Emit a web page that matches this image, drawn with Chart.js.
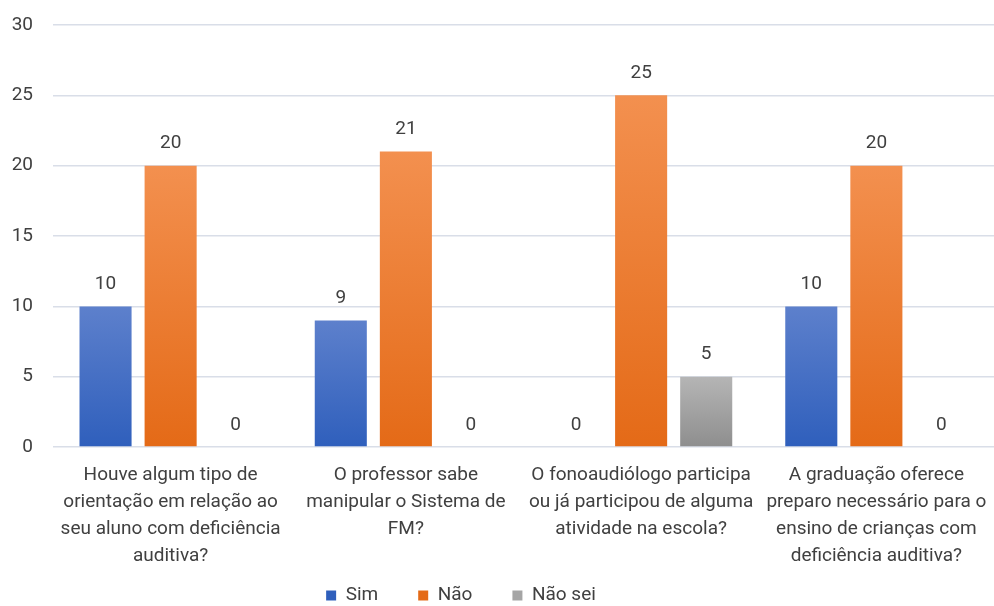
<!DOCTYPE html>
<html>
<head>
<meta charset="utf-8">
<script src="https://cdn.jsdelivr.net/npm/chart.js@4.4.0/dist/chart.umd.min.js"></script>
<style>
  html, body { margin: 0; padding: 0; background: #fff; }
  #wrap { width: 994px; height: 606px; }
</style>
</head>
<body>
<div id="wrap"><canvas id="chart"></canvas></div>
<script>
const categories = [
  ["Houve algum tipo de", "orientação em relação ao", "seu aluno com deficiência", "auditiva?"],
  ["O professor sabe", "manipular o Sistema de", "FM?"],
  ["O fonoaudiólogo participa", "ou já participou de alguma", "atividade na escola?"],
  ["A graduação oferece", "preparo necessário para o", "ensino de crianças com", "deficiência auditiva?"]
];
const simValues = [10, 9, 0, 10];
const naoValues = [20, 21, 25, 20];
const naoSeiValues = [0, 0, 5, 0];
const yTicks = [0, 5, 10, 15, 20, 25, 30];

const FONT = "Roboto, sans-serif";
const SIZE = 19;
const TEXT = "#404040";

// per-bar vertical gradient, light at the top, darker at the base
function barFill(top, bottom, flat) {
  return ctx => {
    const chart = ctx.chart;
    const y = chart.scales.y;
    if (!chart.chartArea || !y || ctx.raw === undefined) return flat;
    const y0 = y.getPixelForValue(0);
    const y1 = y.getPixelForValue(ctx.raw);
    if (Math.abs(y0 - y1) < 1) return flat;
    const g = chart.ctx.createLinearGradient(0, y1, 0, y0);
    g.addColorStop(0, top);
    g.addColorStop(1, bottom);
    return g;
  };
}

const valueLabels = {
  id: "valueLabels",
  afterDatasetsDraw(chart) {
    const c = chart.ctx;
    c.save();
    c.font = SIZE + "px " + FONT;
    c.fillStyle = TEXT;
    c.textAlign = "center";
    c.textBaseline = "middle";
    chart.data.datasets.forEach((ds, i) => {
      chart.getDatasetMeta(i).data.forEach((bar, j) => {
        c.fillText(String(ds.data[j]), bar.x, bar.y - 22);
      });
    });
    c.restore();
  }
};

// legend sits a bit left of centre and overlaps the label band, like the original
const legendNudge = {
  id: "legendNudge",
  afterLayout(chart) {
    const lg = chart.legend;
    lg.left -= 36;
    lg.right -= 36;
    lg.top = chart.height - 60;
    lg.bottom = chart.height;
  }
};

new Chart(document.getElementById("chart"), {
  type: "bar",
  data: {
    labels: categories,
    datasets: [
      { label: "Sim", data: simValues, backgroundColor: barFill("#5d80cc", "#2f5fbc", "#4472c4") },
      { label: "Não", data: naoValues, backgroundColor: barFill("#f3904f", "#e46a17", "#ed7d31") },
      { label: "Não sei", data: naoSeiValues, backgroundColor: barFill("#b5b5b5", "#8e8e8e", "#a5a5a5") }
    ]
  },
  options: {
    responsive: true,
    maintainAspectRatio: false,
    animation: false,
    categoryPercentage: 0.83,
    barPercentage: 0.8,
    layout: { padding: { top: 25, right: 0, left: 0, bottom: 0 } },
    scales: {
      x: {
        afterFit: axis => { axis.paddingLeft = 0; axis.paddingRight = 0; axis.paddingTop = 0; axis.paddingBottom = 0; },
        grid: { display: false, drawTicks: false },
        border: { display: false },
        ticks: { color: TEXT, font: { family: FONT, size: SIZE, lineHeight: 1.42 }, maxRotation: 0, autoSkip: false, padding: 15 }
      },
      y: {
        min: 0,
        max: 30,
        afterBuildTicks: axis => { axis.ticks = yTicks.map(v => ({ value: v })); },
        afterFit: axis => { axis.width = 53; axis.paddingTop = 0; axis.paddingBottom = 0; },
        grid: { color: "#d9dee8", lineWidth: 1.5, drawTicks: false },
        border: { display: false },
        ticks: { color: TEXT, font: { family: FONT, size: SIZE }, padding: 20 }
      }
    },
    plugins: {
      legend: {
        position: "bottom",
        maxHeight: 21,
        labels: { color: TEXT, font: { family: FONT, size: SIZE }, boxWidth: 10, boxHeight: 10, padding: 40 }
      },
      tooltip: { enabled: false }
    }
  },
  plugins: [valueLabels, legendNudge]
});
</script>
</body>
</html>
